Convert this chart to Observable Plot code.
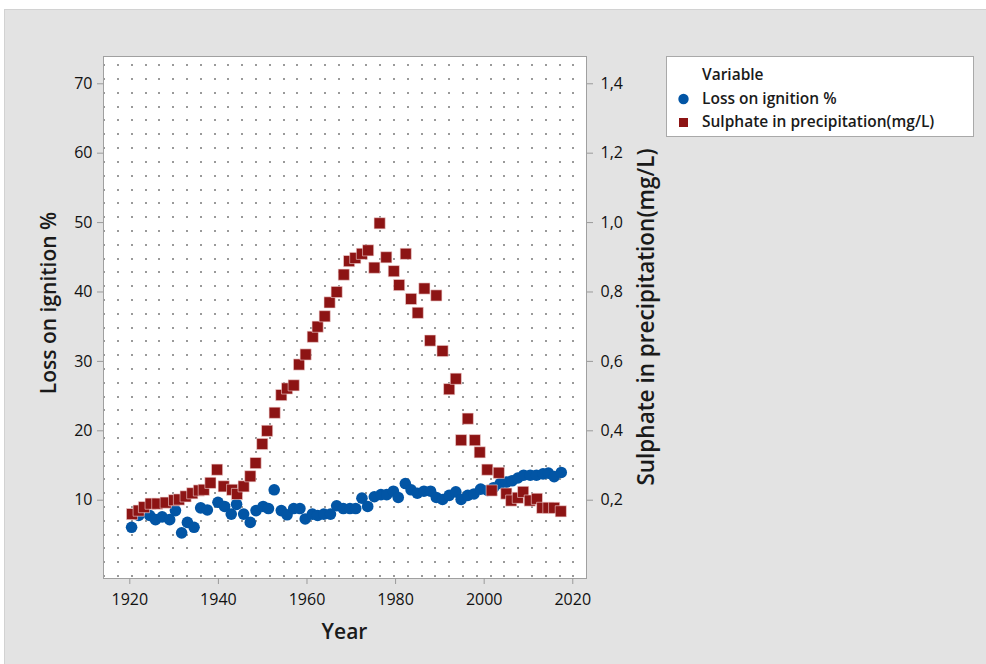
<!DOCTYPE html>
<html>
<head>
<meta charset="utf-8">
<script src="https://cdn.jsdelivr.net/npm/d3@7"></script>
<script src="https://cdn.jsdelivr.net/npm/@observablehq/plot@0.6"></script>
<style>
  html, body { margin: 0; padding: 0; background: #ffffff; }
  #page { position: relative; width: 986px; height: 664px; overflow: hidden; font-family: "Open Sans", sans-serif; color: #1a1a1a; }
  #bg { position: absolute; left: 4px; top: 9px; width: 982px; height: 655px; background: #e3e3e3; border-top: 1px solid #d2d2d2; border-left: 1px solid #d2d2d2; }
  #chart { position: absolute; left: 0; top: 0; }
  .title { position: absolute; white-space: nowrap; font-weight: 600; font-size: 21px; color: #1a1a1a; transform: translate(-50%, -50%); }
  .rot { transform: translate(-50%, -50%) rotate(-90deg); }
  #legend { position: absolute; left: 666px; top: 56px; width: 308px; height: 81px; background: #fff; border: 1px solid #a9a9a9; box-sizing: border-box; font-size: 15.5px; font-weight: 600; }
  #legend .t { position: absolute; left: 35px; white-space: nowrap; line-height: 1; }
</style>
</head>
<body>
<div id="page">
  <div id="bg"></div>
  <div id="chart"></div>
  <div class="title rot" style="left:47.5px; top:303px;">Loss on ignition %</div>
  <div class="title rot" style="left:645px; top:317px; font-size:22.5px;">Sulphate in precipitation(mg/L)</div>
  <div class="title" style="left:344.5px; top:631px;">Year</div>
  <div id="legend"></div>
</div>
<script>
// ---- Data ----
const loiYears = [1920.4,1922.0,1924.5,1925.8,1927.3,1929.0,1930.3,1931.7,1933.0,1934.5,1936.0,1937.5,1939.9,1941.4,1942.9,1944.1,1945.7,1947.2,1948.5,1950.1,1951.3,1952.6,1954.2,1955.5,1957.0,1958.4,1959.6,1961.2,1962.4,1963.8,1965.3,1966.7,1968.2,1969.7,1971.0,1972.4,1973.7,1975.2,1976.7,1978.0,1979.5,1980.6,1982.2,1983.5,1984.9,1986.4,1987.9,1989.2,1990.6,1992.1,1993.6,1994.8,1996.3,1997.7,1999.2,2000.8,2002.1,2003.6,2005.0,2006.3,2007.6,2008.9,2010.4,2011.8,2013.3,2014.5,2015.8,2017.4];
const loiValues = [6.1,7.8,7.8,7.2,7.6,7.2,8.5,5.3,6.8,6.1,8.9,8.6,9.7,9.1,8.0,9.4,8.0,6.8,8.5,9.1,8.8,11.5,8.5,7.9,8.8,8.8,7.3,8.0,7.8,8.0,8.0,9.2,8.8,8.8,8.8,10.3,9.1,10.5,10.8,10.8,11.3,10.4,12.4,11.5,11.0,11.3,11.3,10.4,10.1,10.7,11.2,10.1,10.7,10.9,11.6,11.4,11.8,12.4,12.6,12.8,13.2,13.6,13.6,13.6,13.8,13.9,13.4,14.0];

const so4Years = [1920.5,1922.0,1923.2,1924.7,1926.2,1928.1,1930.0,1931.1,1932.6,1934.1,1935.6,1936.7,1938.2,1939.7,1941.2,1943.1,1944.2,1945.7,1947.2,1948.4,1949.9,1951.0,1952.7,1954.2,1955.5,1957.0,1958.2,1959.7,1961.3,1962.4,1964.0,1965.1,1966.7,1968.3,1969.5,1970.9,1972.4,1973.8,1975.2,1976.4,1977.9,1979.6,1980.8,1982.3,1983.5,1985.0,1986.5,1987.8,1989.2,1990.6,1992.1,1993.6,1994.8,1996.3,1997.9,1999.0,2000.7,2001.7,2003.3,2005.0,2006.1,2007.6,2008.8,2010.3,2011.9,2013.1,2014.5,2015.8,2017.3];
const so4Values = [0.16,0.17,0.18,0.19,0.19,0.193,0.20,0.202,0.211,0.22,0.228,0.23,0.25,0.288,0.24,0.23,0.218,0.24,0.269,0.307,0.362,0.40,0.452,0.503,0.522,0.531,0.591,0.62,0.671,0.70,0.73,0.77,0.80,0.85,0.889,0.898,0.91,0.92,0.87,0.998,0.90,0.86,0.82,0.91,0.78,0.74,0.81,0.66,0.79,0.63,0.52,0.55,0.373,0.435,0.373,0.338,0.288,0.228,0.279,0.219,0.199,0.207,0.224,0.199,0.204,0.178,0.178,0.178,0.168];

const xTicks = [1920, 1940, 1960, 1980, 2000, 2020];
const leftTicks = [10, 20, 30, 40, 50, 60, 70];
const rightTicks = [0.2, 0.4, 0.6, 0.8, 1.0, 1.2, 1.4];
const seriesNames = ["Loss on ignition %", "Sulphate in precipitation(mg/L)"];
const legendTitle = "Variable";

// ---- Styling ----
const BLUE = "#0255a5";
const RED = "#8d1414";
const RATIO = 50; // right axis value * 50 = left axis value

const loi = loiYears.map((x, i) => ({x, y: loiValues[i]}));
const so4 = so4Years.map((x, i) => ({x, y: so4Values[i] * RATIO}));

// dotted background pattern (decorative)
function dotGrid(index, scales, values, dim) {
  const g = d3.create("svg:g").attr("shape-rendering", "crispEdges");
  const x0 = dim.marginLeft, x1 = dim.width - dim.marginRight;
  const y0 = dim.marginTop, y1 = dim.height - dim.marginBottom;
  const step = 13.8;
  for (let x = x0 + 0.2; x < x1 - 1; x += step) {
    for (let y = y0 + 8.3; y < y1 - 1; y += step) {
      g.append("rect").attr("x", Math.round(x)).attr("y", Math.round(y)).attr("width", 2).attr("height", 2).attr("fill", "#9a9a9a");
    }
  }
  return g.node();
}

const chart = Plot.plot({
  width: 986,
  height: 664,
  marginLeft: 103,
  marginRight: 400,
  marginTop: 56,
  marginBottom: 86,
  style: {background: "transparent", fontFamily: "'Open Sans', sans-serif", fontSize: "16px", color: "#1a1a1a"},
  x: {domain: [1914.06, 2023.1]},
  y: {domain: [-1.28, 73.93]},
  marks: [
    Plot.frame({fill: "white", stroke: "none"}),
    dotGrid,
    Plot.frame({stroke: "#a0a0a0"}),
    Plot.axisX({ticks: xTicks, tickFormat: d3.format("d"), tickSize: 6, tickPadding: 9, stroke: "#9a9a9a", fill: "#111", fontWeight: 500, label: null}),
    Plot.axisY({anchor: "left", ticks: leftTicks, tickSize: 6, tickPadding: 5, stroke: "#9a9a9a", fill: "#111", fontWeight: 500, label: null}),
    Plot.axisY({anchor: "right", ticks: rightTicks.map(v => v * RATIO), tickFormat: d => (d / RATIO).toFixed(1).replace(".", ","), tickSize: 6, tickPadding: 8, stroke: "#9a9a9a", fill: "#111", fontWeight: 500, label: null}),
    Plot.dot(loi, {x: "x", y: "y", r: 5.8, fill: BLUE, stroke: "none"}),
    Plot.dot(so4, {x: "x", y: "y", symbol: "square", r: 6.3, fill: RED, stroke: "#f3d6d6", strokeWidth: 0.6})
  ]
});
document.getElementById("chart").appendChild(chart);

// legend
const legend = d3.select("#legend");
legend.append("div").attr("class", "t").style("top", "10px").text(legendTitle);
const sym = legend.append("svg").attr("width", 40).attr("height", 81).style("position", "absolute").style("left", "0").style("top", "0");
sym.append("circle").attr("cx", 16.5).attr("cy", 42).attr("r", 5.2).attr("fill", BLUE);
sym.append("rect").attr("x", 12).attr("y", 61).attr("width", 9).attr("height", 9).attr("fill", RED);
legend.append("div").attr("class", "t").style("top", "34px").text(seriesNames[0]);
legend.append("div").attr("class", "t").style("top", "57px").text(seriesNames[1]);
</script>
</body>
</html>
